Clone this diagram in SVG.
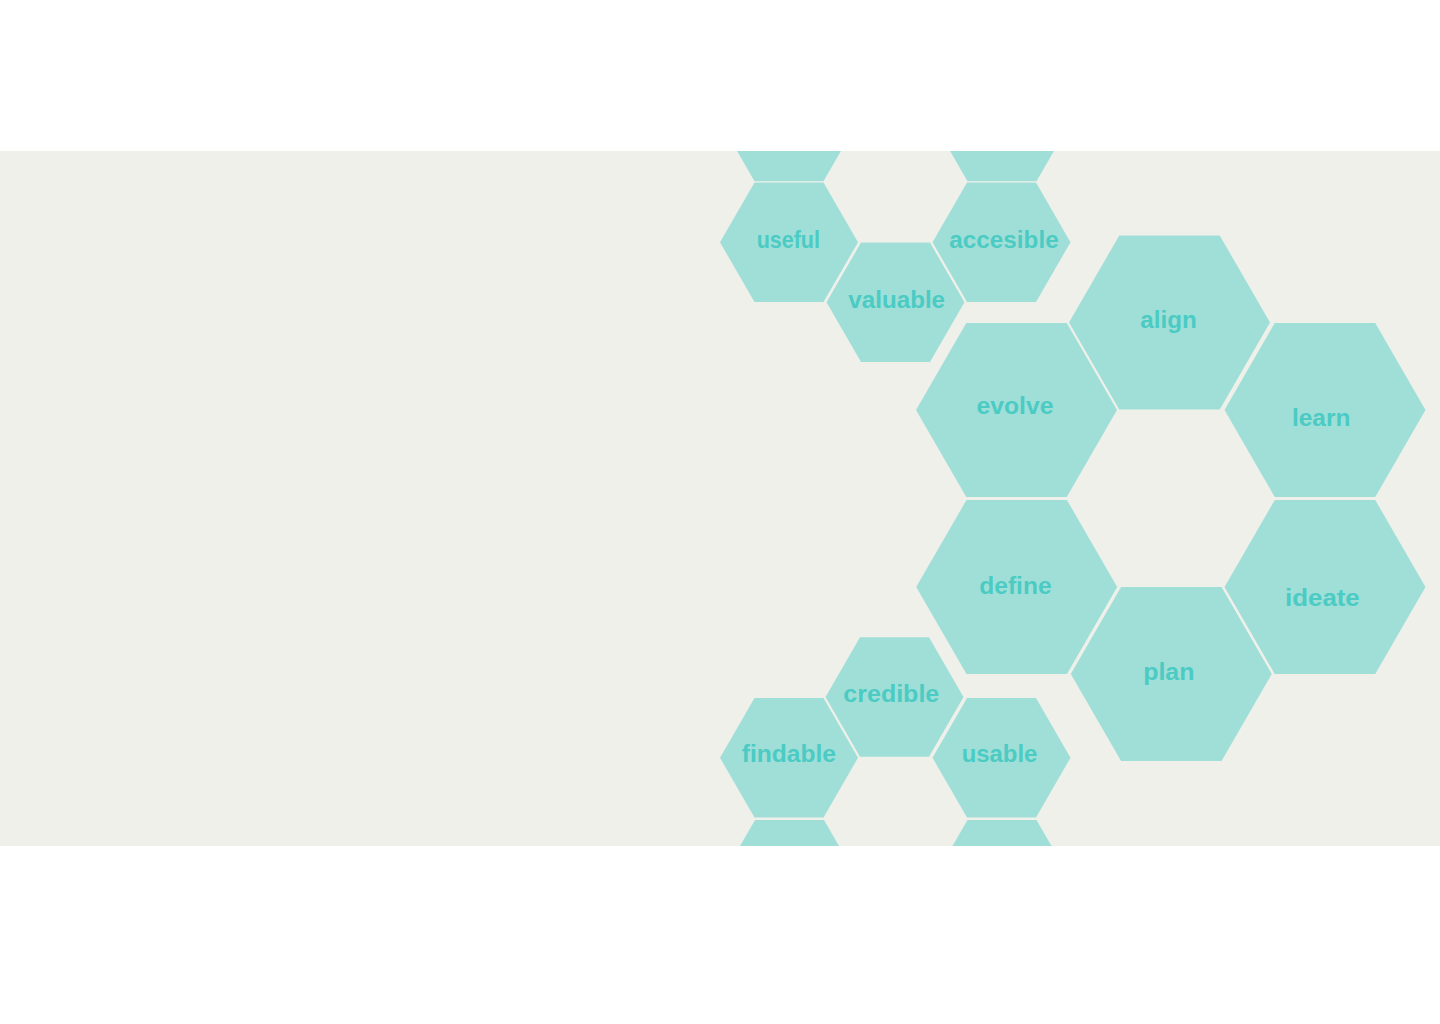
<svg xmlns="http://www.w3.org/2000/svg" xmlns:xlink="http://www.w3.org/1999/xlink" width="1440" height="1024" viewBox="0 0 1440 1024">
  <style>
    .hex { fill: #A0DFD8; }
    .lbl { font-family: "Liberation Sans", "DejaVu Sans", sans-serif; font-weight: bold; font-size: 23px; fill: #4BCBC3; text-anchor: middle; }
  </style>
  <defs>
    <polygon id="hs" points="-69,0 -34.5,-59.75 34.5,-59.75 69,0 34.5,59.75 -34.5,59.75"/>
    <polygon id="hl" points="-100.5,0 -50.25,-87 50.25,-87 100.5,0 50.25,87 -50.25,87"/>
    <clipPath id="band"><rect x="0" y="151" width="1440" height="695"/></clipPath>
  </defs>
  <rect x="0" y="0" width="1440" height="1024" fill="#FFFFFF"/>
  <rect x="0" y="151" width="1440" height="695" fill="#F0F0EB"/>
  <g id="connectors"></g>
  <g clip-path="url(#band)">
    <g id="hex-top-left"><use xlink:href="#hs" href="#hs" class="hex" x="789" y="121.5"/></g>
    <g id="hex-top-right"><use xlink:href="#hs" href="#hs" class="hex" x="1002" y="121.5"/></g>
    <g id="hex-bottom-left"><use xlink:href="#hs" href="#hs" class="hex" x="789.5" y="879.7"/></g>
    <g id="hex-bottom-right"><use xlink:href="#hs" href="#hs" class="hex" x="1002" y="879.7"/></g>
  </g>
  <g id="useful"><use xlink:href="#hs" href="#hs" class="hex" x="789" y="242.3"/><text class="lbl" x="788.3" y="247.7" textLength="63.3" lengthAdjust="spacingAndGlyphs">useful</text></g>
  <g id="valuable"><use xlink:href="#hs" href="#hs" class="hex" x="895.5" y="302.3"/><text class="lbl" x="896.7" y="307.7" textLength="96.7" lengthAdjust="spacingAndGlyphs">valuable</text></g>
  <g id="accesible"><use xlink:href="#hs" href="#hs" class="hex" x="1001.5" y="242.3"/><text class="lbl" x="1004" y="247.7" textLength="109.3" lengthAdjust="spacingAndGlyphs">accesible</text></g>
  <g id="credible"><use xlink:href="#hs" href="#hs" class="hex" x="894.5" y="697"/><text class="lbl" x="891.3" y="701.7" textLength="96" lengthAdjust="spacingAndGlyphs">credible</text></g>
  <g id="findable"><use xlink:href="#hs" href="#hs" class="hex" x="789" y="757.8"/><text class="lbl" x="788.9" y="761.7" textLength="94.3" lengthAdjust="spacingAndGlyphs">findable</text></g>
  <g id="usable"><use xlink:href="#hs" href="#hs" class="hex" x="1001.5" y="757.8"/><text class="lbl" x="999.5" y="761.7" textLength="75.7" lengthAdjust="spacingAndGlyphs">usable</text></g>
  <g id="evolve"><use xlink:href="#hl" href="#hl" class="hex" x="1016.5" y="410"/><text class="lbl" x="1015" y="414" textLength="77.1" lengthAdjust="spacingAndGlyphs">evolve</text></g>
  <g id="align"><use xlink:href="#hl" href="#hl" class="hex" x="1169.5" y="322.5"/><text class="lbl" x="1168.6" y="327.7" textLength="56.5" lengthAdjust="spacingAndGlyphs">align</text></g>
  <g id="learn"><use xlink:href="#hl" href="#hl" class="hex" x="1325" y="410"/><text class="lbl" x="1321.2" y="426" textLength="58.5" lengthAdjust="spacingAndGlyphs">learn</text></g>
  <g id="define"><use xlink:href="#hl" href="#hl" class="hex" x="1016.7" y="587"/><text class="lbl" x="1015.4" y="594" textLength="72.3" lengthAdjust="spacingAndGlyphs">define</text></g>
  <g id="plan"><use xlink:href="#hl" href="#hl" class="hex" x="1171.3" y="674"/><text class="lbl" x="1168.8" y="680" textLength="51.3" lengthAdjust="spacingAndGlyphs">plan</text></g>
  <g id="ideate"><use xlink:href="#hl" href="#hl" class="hex" x="1325" y="587"/><text class="lbl" x="1322.4" y="605.7" textLength="74.7" lengthAdjust="spacingAndGlyphs">ideate</text></g>
</svg>
